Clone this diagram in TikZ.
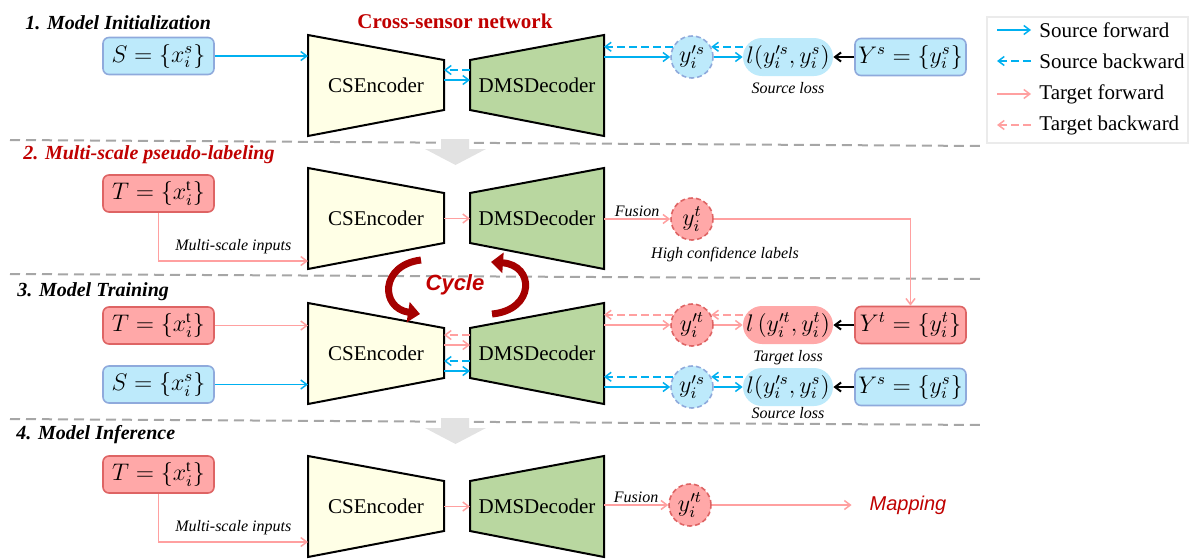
\documentclass[tikz,border=0pt]{standalone}
\usepackage{fontspec}
\setmainfont{Liberation Serif}
\setsansfont{Liberation Sans}
\usepackage{amsmath}
\usetikzlibrary{arrows.meta,calc,positioning}
\definecolor{srcline}{RGB}{0,176,240}
\definecolor{srcfill}{RGB}{189,234,251}
\definecolor{srcborder}{RGB}{143,170,220}
\definecolor{tgtline}{RGB}{255,160,160}
\definecolor{tgtfill}{RGB}{255,168,168}
\definecolor{tgtborder}{RGB}{222,100,100}
\definecolor{encfill}{RGB}{255,255,230}
\definecolor{decfill}{RGB}{185,215,160}
\definecolor{redtxt}{RGB}{192,0,0}
\definecolor{cycred}{RGB}{165,0,0}
\definecolor{sepgray}{RGB}{166,166,166}
\definecolor{arrgray}{RGB}{226,226,226}
\tikzset{
  fwd/.style={line width=0.75pt,-{Straight Barb[length=3pt,width=4.5pt]}},
  sfwd/.style={fwd,draw=srcline},
  sbwd/.style={sfwd,dash pattern=on 4pt off 2pt},
  tfwd/.style={fwd,draw=tgtline},
  tbwd/.style={tfwd,dash pattern=on 4pt off 2pt},
  kfwd/.style={fwd,draw=black,line width=1pt},
  mathtext/.style={font=\fontsize{11.5}{13}\selectfont},
  inbox/.style={mathtext,rounded corners=3pt,line width=0.8pt,minimum width=55.5pt,minimum height=18.5pt,inner sep=1pt},
  srcbox/.style={inbox,draw=srcborder,fill=srcfill},
  tgtbox/.style={inbox,draw=tgtborder,fill=tgtfill},
  pred/.style={mathtext,circle,minimum size=21pt,inner sep=0pt,line width=0.8pt,dash pattern=on 2.5pt off 1.5pt},
  predS/.style={pred,draw=srcborder,fill=srcfill},
  predT/.style={pred,draw=tgtborder,fill=tgtfill},
  loss/.style={mathtext,rounded corners=9.5pt,minimum width=45pt,minimum height=19pt,inner sep=1pt},
  lossS/.style={loss,fill=srcfill},
  lossT/.style={loss,fill=tgtfill},
  note/.style={font=\fontsize{8}{9}\selectfont\itshape,inner sep=1pt},
  stage/.style={font=\fontsize{10}{12}\selectfont\bfseries\itshape,anchor=west,inner sep=0pt},
  nettext/.style={font=\fontsize{10.5}{12}\selectfont},
  netbox/.style={draw=black,line width=1pt,line join=miter},
  sepline/.style={draw=sepgray,line width=1pt,dash pattern=on 5pt off 3pt},
  bigarrow/.style={fill=arrgray},
  cyc/.style={draw=cycred,line width=3.5pt,-{Triangle[length=6pt,width=10pt]}},
  legtext/.style={font=\fontsize{10.5}{12}\selectfont,anchor=west,inner xsep=4pt},
}
\begin{document}
\begin{tikzpicture}[x=0.5pt,y=-0.5pt]
\pgfmathsetmacro{\eL}{308}
\pgfmathsetmacro{\eR}{444}
\pgfmathsetmacro{\dL}{470}
\pgfmathsetmacro{\dR}{604}
\useasboundingbox (0,0) rectangle (1200,558);

% stage separators
\foreach \ya/\yb in {140/146,274/279,419/425}{
  \draw[sepline] (10,\ya) -- (985,\yb);
}
\fill[bigarrow] (441,139) -- (469,139) -- (469,149) -- (486,149) -- (455.5,165) -- (425,149) -- (441,149) -- cycle;
\fill[bigarrow] (441,418) -- (469,418) -- (469,428) -- (486,428) -- (455.5,444) -- (425,428) -- (441,428) -- cycle;

\foreach \k/\yo in {1/0,2/133,3/268,4/421}{
  \draw[netbox,fill=encfill] (\eL,35+\yo) -- (\eR,60+\yo) -- (\eR,110+\yo) -- (\eL,136+\yo) -- cycle;
  \draw[netbox,fill=decfill] (\dL,60+\yo) -- (\dR,35+\yo) -- (\dR,136+\yo) -- (\dL,110+\yo) -- cycle;
  \node[nettext] (enc\k) at (376,85.5+\yo) {CSEncoder};
  \node[nettext] (dec\k) at (537,85.5+\yo) {DMSDecoder};
  \coordinate (encL\k) at (\eL,85.5+\yo);
  \coordinate (encR\k) at (\eR,85.5+\yo);
  \coordinate (decL\k) at (\dL,85.5+\yo);
  \coordinate (decR\k) at (\dR,85.5+\yo);
}

\node[stage] (st1) at (25,23) {1. Model Initialization};
\node[stage,text=redtxt] (st2) at (23,155) {2. Multi-scale pseudo-labeling};
\node[stage] (st3) at (17,292) {3. Model Training};
\node[stage] (st4) at (16,435) {4. Model Inference};
\node[font=\fontsize{10.5}{12}\selectfont\bfseries,text=redtxt] (csn) at (455,21) {Cross-sensor network};

% stage 1
\node[srcbox] (srcIn1) at (158.5,56) {$S=\{x_i^s\}$};
\node[predS] (pS1) at (692,57) {$y'^s_i$};
\node[lossS] (lS1) at (788,57) {$l(y'^s_i,y^s_i)$};
\node[srcbox] (labS1) at (910.5,57) {$Y^s=\{y^s_i\}$};
\node[note,below=2pt of lS1] (slS1) {Source loss};
\draw[sfwd] (srcIn1) -- (srcIn1 -| encL1);
\draw[sbwd] ([yshift=7.75pt]decL1) -- ([yshift=7.75pt]encR1);
\draw[sfwd] ([yshift=2.75pt]encR1) -- ([yshift=2.75pt]decL1);
\draw[sfwd] (pS1 -| decR1) -- (pS1);
\draw[sbwd] (pS1.152) -- (pS1.152 -| decR1);
\draw[sfwd] (pS1) -- (lS1);
\draw[sbwd] (lS1.west |- pS1.28) -- (pS1.28);
\draw[kfwd] (labS1) -- (lS1);

% stage 2
\node[tgtbox] (tgtIn2) at (158.5,193.5) {$T=\left\{x_i^{\mathrm{t}}\right\}$};
\coordinate (msIn2) at (\eL,261);
\draw[tfwd] (tgtIn2.south) |- node[note,above=2pt,pos=0.75]{Multi-scale inputs} (msIn2);
\draw[tfwd] (encR2) -- (decL2);
\node[predT] (pT2) at (692,219) {$y^t_i$};
\draw[tfwd] (pT2 -| decR2) -- node[note,above]{Fusion} (pT2);
\node[note] (hcl2) at (725,255) {High confidence labels};

% stage 3
\node[tgtbox] (tgtIn3) at (158.5,325.5) {$T=\left\{x_i^{\mathrm{t}}\right\}$};
\node[srcbox] (srcIn3) at (158.5,384.5) {$S=\{x_i^s\}$};
\draw[tfwd] (tgtIn3) -- (tgtIn3 -| encL3);
\draw[sfwd] (srcIn3) -- (srcIn3 -| encL3);
\draw[tbwd] ([yshift=9.25pt]decL3) -- ([yshift=9.25pt]encR3);
\draw[tfwd] ([yshift=4.25pt]encR3) -- ([yshift=4.25pt]decL3);
\draw[sbwd] ([yshift=-3.75pt]decL3) -- ([yshift=-3.75pt]encR3);
\draw[sfwd] ([yshift=-8.75pt]encR3) -- ([yshift=-8.75pt]decL3);

\node[predT] (pT3) at (692,325) {$y'^t_i$};
\node[lossT] (lT3) at (788,325) {$l\left(y'^t_i,y^t_i\right)$};
\node[tgtbox] (labT3) at (910.5,325) {$Y^t=\left\{y^t_i\right\}$};
\node[note,below=2pt of lT3] (tlT3) {Target loss};
\draw[tfwd] (pT3 -| decR3) -- (pT3);
\draw[tbwd] (pT3.152) -- (pT3.152 -| decR3);
\draw[tfwd] (pT3) -- (lT3);
\draw[tbwd] (lT3.west |- pT3.28) -- (pT3.28);
\draw[kfwd] (labT3) -- (lT3);
\draw[tfwd] (pT2) -| (labT3);

\node[predS] (pS3) at (692,387) {$y'^s_i$};
\node[lossS] (lS3) at (788,387) {$l(y'^s_i,y^s_i)$};
\node[srcbox] (labS3) at (910.5,387) {$Y^s=\{y^s_i\}$};
\node[note,below=-0.5pt of lS3] (slS3) {Source loss};
\draw[sfwd] (pS3 -| decR3) -- (pS3);
\draw[sbwd] (pS3.152) -- (pS3.152 -| decR3);
\draw[sfwd] (pS3) -- (lS3);
\draw[sbwd] (lS3.west |- pS3.28) -- (pS3.28);
\draw[kfwd] (labS3) -- (lS3);

% cycle between stage 2 and 3
\draw[cyc] (421,260) .. controls (380,265) and (380,308) .. (420,314);
\draw[cyc] (492,314) .. controls (535,310) and (535,265) .. (491,262);
\node[font=\fontsize{11}{13}\selectfont\sffamily\bfseries\itshape,text=redtxt] (cyc23) at (455,285) {Cycle};

% stage 4
\node[tgtbox] (tgtIn4) at (158.5,474.5) {$T=\left\{x_i^{\mathrm{t}}\right\}$};
\coordinate (msIn4) at (\eL,542);
\draw[tfwd] (tgtIn4.south) |- node[note,above=2pt,pos=0.75]{Multi-scale inputs} (msIn4);
\draw[tfwd] (encR4) -- (decL4);
\node[predT] (pT4) at (690,505) {$y'^t_i$};
\draw[tfwd] (pT4 -| decR4) -- node[note,above]{Fusion} (pT4);
\node[font=\fontsize{10}{12}\selectfont\sffamily\itshape,text=redtxt] (map4) at (908,505) {Mapping};
\draw[tfwd] (pT4) -- ([xshift=-5.5pt]map4.west);

% legend
\draw[draw=black!8,line width=0.75pt] (987,17) rectangle (1188,143);
\foreach \yy/\txt [count=\i] in {30/Source forward,61/Source backward,94/Target forward,125/Target backward}{
  \node[legtext] (leg\i) at (1031,\yy) {\txt};
  \coordinate (legA\i) at (997,\yy);
}
\draw[sfwd] (legA1) -- (leg1.west);
\draw[sbwd] (leg2.west) -- (legA2);
\draw[tfwd] (legA3) -- (leg3.west);
\draw[tbwd] (leg4.west) -- (legA4);
\end{tikzpicture}
\end{document}
